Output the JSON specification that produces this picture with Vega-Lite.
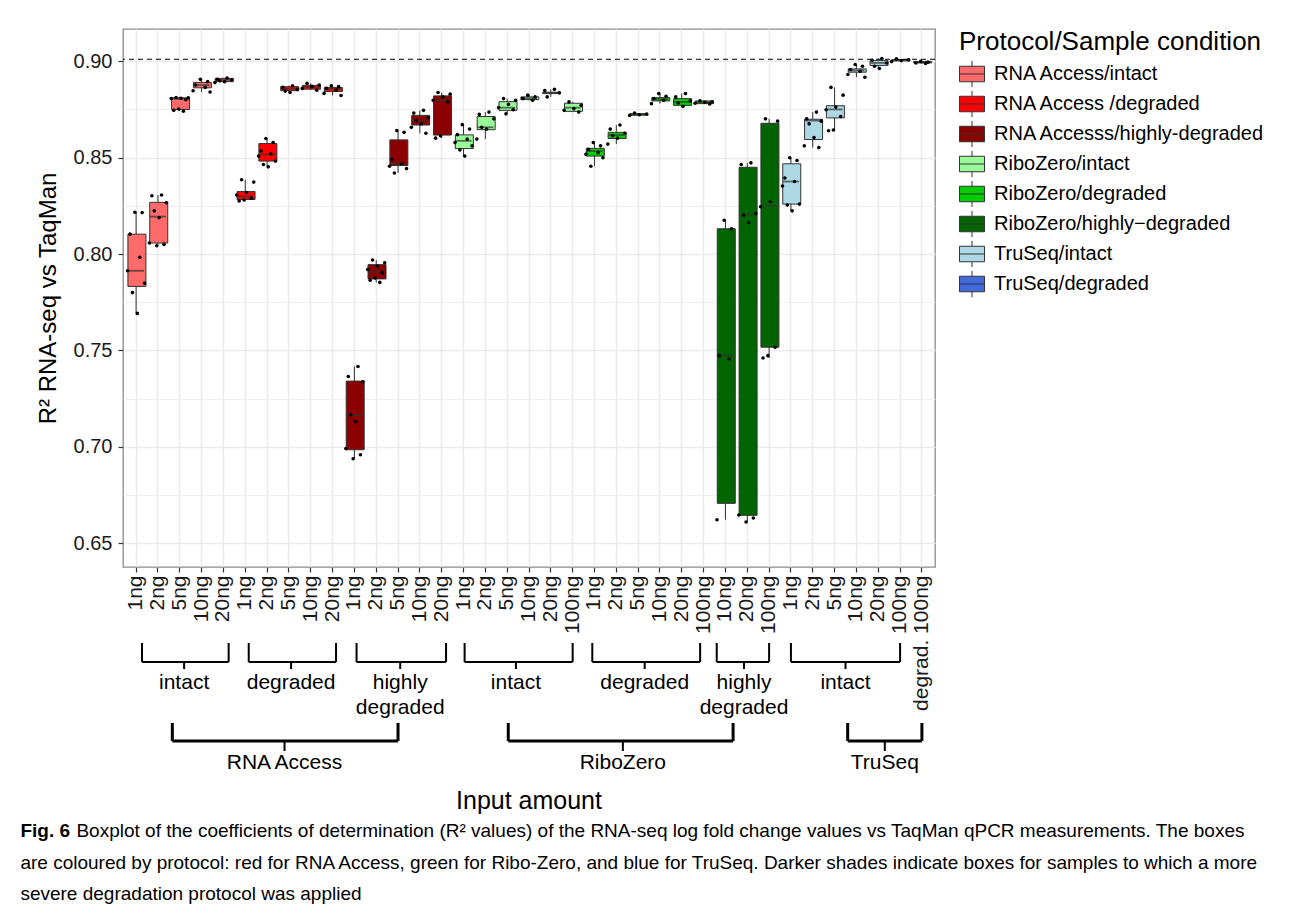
{
"$schema": "https://vega.github.io/schema/vega-lite/v6.json",
"background": "white",
"padding": {"left": 20, "top": 28, "right": 5, "bottom": 5},
"config": {"font": "Liberation Sans", "view": {"stroke": "#8c8c8c", "strokeWidth": 1.3}},
"datasets": {
"boxes": [
{"c":"01 1ng","g":"RNA Access/intact","lo":0.7692,"q1":0.7832,"med":0.7913,"q3":0.8103,"hi":0.8217},
{"c":"02 2ng","g":"RNA Access/intact","lo":0.8043,"q1":0.8057,"med":0.8194,"q3":0.8268,"hi":0.8306},
{"c":"03 5ng","g":"RNA Access/intact","lo":0.8741,"q1":0.8750,"med":0.8805,"q3":0.8810,"hi":0.8812},
{"c":"04 10ng","g":"RNA Access/intact","lo":0.8840,"q1":0.8862,"med":0.8876,"q3":0.8890,"hi":0.8906},
{"c":"05 20ng","g":"RNA Access/intact","lo":0.8889,"q1":0.8894,"med":0.8903,"q3":0.8911,"hi":0.8913},
{"c":"06 1ng","g":"RNA Access /degraded","lo":0.8275,"q1":0.8283,"med":0.8298,"q3":0.8324,"hi":0.8385},
{"c":"07 2ng","g":"RNA Access /degraded","lo":0.8452,"q1":0.8482,"med":0.8517,"q3":0.8573,"hi":0.8599},
{"c":"08 5ng","g":"RNA Access /degraded","lo":0.8838,"q1":0.8847,"med":0.8857,"q3":0.8868,"hi":0.8873},
{"c":"09 10ng","g":"RNA Access /degraded","lo":0.8850,"q1":0.8855,"med":0.8866,"q3":0.8875,"hi":0.8885},
{"c":"10 20ng","g":"RNA Access /degraded","lo":0.8822,"q1":0.8843,"med":0.8855,"q3":0.8864,"hi":0.8873},
{"c":"11 1ng","g":"RNA Accesss/highly-degraded","lo":0.6938,"q1":0.6985,"med":0.7166,"q3":0.7341,"hi":0.7417},
{"c":"12 2ng","g":"RNA Accesss/highly-degraded","lo":0.7853,"q1":0.7871,"med":0.7908,"q3":0.7945,"hi":0.7969},
{"c":"13 5ng","g":"RNA Accesss/highly-degraded","lo":0.8420,"q1":0.8459,"med":0.8468,"q3":0.8592,"hi":0.8640},
{"c":"14 10ng","g":"RNA Accesss/highly-degraded","lo":0.8626,"q1":0.8669,"med":0.8692,"q3":0.8719,"hi":0.8745},
{"c":"15 20ng","g":"RNA Accesss/highly-degraded","lo":0.8601,"q1":0.8617,"med":0.8797,"q3":0.8820,"hi":0.8838},
{"c":"16 1ng","g":"RiboZero/intact","lo":0.8508,"q1":0.8547,"med":0.8587,"q3":0.8618,"hi":0.8671},
{"c":"17 2ng","g":"RiboZero/intact","lo":0.8596,"q1":0.8645,"med":0.8657,"q3":0.8713,"hi":0.8736},
{"c":"18 5ng","g":"RiboZero/intact","lo":0.8727,"q1":0.8745,"med":0.8759,"q3":0.8790,"hi":0.8806},
{"c":"19 10ng","g":"RiboZero/intact","lo":0.8797,"q1":0.8801,"med":0.8808,"q3":0.8815,"hi":0.8824},
{"c":"20 20ng","g":"RiboZero/intact","lo":0.8815,"q1":0.8832,"med":0.8836,"q3":0.8839,"hi":0.8854},
{"c":"21 100ng","g":"RiboZero/intact","lo":0.8736,"q1":0.8740,"med":0.8759,"q3":0.8782,"hi":0.8789},
{"c":"22 1ng","g":"RiboZero/degraded","lo":0.8455,"q1":0.8508,"med":0.8534,"q3":0.8548,"hi":0.8578},
{"c":"23 2ng","g":"RiboZero/degraded","lo":0.8570,"q1":0.8599,"med":0.8617,"q3":0.8631,"hi":0.8669},
{"c":"24 5ng","g":"RiboZero/degraded","lo":0.8719,"q1":0.8720,"med":0.8724,"q3":0.8728,"hi":0.8731},
{"c":"25 10ng","g":"RiboZero/degraded","lo":0.8780,"q1":0.8794,"med":0.8803,"q3":0.8811,"hi":0.8832},
{"c":"26 20ng","g":"RiboZero/degraded","lo":0.8766,"q1":0.8771,"med":0.8789,"q3":0.8806,"hi":0.8832},
{"c":"27 100ng","g":"RiboZero/degraded","lo":0.8778,"q1":0.8780,"med":0.8787,"q3":0.8794,"hi":0.8795},
{"c":"28 10ng","g":"RiboZero/highly−degraded","lo":0.6622,"q1":0.6707,"med":0.7473,"q3":0.8131,"hi":0.8175},
{"c":"29 20ng","g":"RiboZero/highly−degraded","lo":0.6610,"q1":0.6645,"med":0.8205,"q3":0.8450,"hi":0.8473},
{"c":"30 100ng","g":"RiboZero/highly−degraded","lo":0.7461,"q1":0.7517,"med":0.8250,"q3":0.8678,"hi":0.8701},
{"c":"31 1ng","g":"TruSeq/intact","lo":0.8224,"q1":0.8259,"med":0.8376,"q3":0.8468,"hi":0.8499},
{"c":"32 2ng","g":"TruSeq/intact","lo":0.8552,"q1":0.8594,"med":0.8692,"q3":0.8699,"hi":0.8736},
{"c":"33 5ng","g":"TruSeq/intact","lo":0.8639,"q1":0.8706,"med":0.8750,"q3":0.8769,"hi":0.8864},
{"c":"34 10ng","g":"TruSeq/intact","lo":0.8917,"q1":0.8943,"med":0.8952,"q3":0.8960,"hi":0.8983},
{"c":"35 20ng","g":"TruSeq/intact","lo":0.8962,"q1":0.8978,"med":0.8991,"q3":0.9003,"hi":0.9014},
{"c":"36 100ng","g":"TruSeq/intact","lo":0.8998,"q1":0.9002,"med":0.9005,"q3":0.9008,"hi":0.9012},
{"c":"37 degrad. 100ng","g":"TruSeq/degraded","lo":0.8988,"q1":0.8991,"med":0.8995,"q3":0.8998,"hi":0.8999}
],
"pts": [
{"c":"01 1ng","v":0.8217,"r":4},{"c":"01 1ng","v":0.8215,"r":7},{"c":"01 1ng","v":0.8103,"r":2},{"c":"01 1ng","v":0.7983,"r":6},{"c":"01 1ng","v":0.7913,"r":1},{"c":"01 1ng","v":0.7849,"r":8},{"c":"01 1ng","v":0.78,"r":3},{"c":"01 1ng","v":0.7692,"r":5},
{"c":"02 2ng","v":0.8306,"r":6},{"c":"02 2ng","v":0.8302,"r":2},{"c":"02 2ng","v":0.8266,"r":8},{"c":"02 2ng","v":0.8224,"r":3},{"c":"02 2ng","v":0.8189,"r":5},{"c":"02 2ng","v":0.8057,"r":1},{"c":"02 2ng","v":0.805,"r":7},{"c":"02 2ng","v":0.8043,"r":4},
{"c":"03 5ng","v":0.8812,"r":3},{"c":"03 5ng","v":0.881,"r":8},{"c":"03 5ng","v":0.8808,"r":5},{"c":"03 5ng","v":0.8806,"r":1},{"c":"03 5ng","v":0.88,"r":7},{"c":"03 5ng","v":0.8752,"r":4},{"c":"03 5ng","v":0.8745,"r":2},{"c":"03 5ng","v":0.8741,"r":6},
{"c":"04 10ng","v":0.8906,"r":4},{"c":"04 10ng","v":0.8894,"r":7},{"c":"04 10ng","v":0.8876,"r":2},{"c":"04 10ng","v":0.8864,"r":6},{"c":"04 10ng","v":0.8847,"r":1},{"c":"04 10ng","v":0.884,"r":8},
{"c":"05 20ng","v":0.8913,"r":6},{"c":"05 20ng","v":0.8906,"r":2},{"c":"05 20ng","v":0.8903,"r":8},{"c":"05 20ng","v":0.8899,"r":3},{"c":"05 20ng","v":0.8894,"r":5},{"c":"05 20ng","v":0.8889,"r":1},
{"c":"06 1ng","v":0.8385,"r":3},{"c":"06 1ng","v":0.8373,"r":8},{"c":"06 1ng","v":0.8319,"r":5},{"c":"06 1ng","v":0.8306,"r":1},{"c":"06 1ng","v":0.8289,"r":7},{"c":"06 1ng","v":0.828,"r":4},{"c":"06 1ng","v":0.8275,"r":2},
{"c":"07 2ng","v":0.8599,"r":4},{"c":"07 2ng","v":0.8578,"r":7},{"c":"07 2ng","v":0.8534,"r":2},{"c":"07 2ng","v":0.852,"r":6},{"c":"07 2ng","v":0.8508,"r":1},{"c":"07 2ng","v":0.8482,"r":8},{"c":"07 2ng","v":0.8464,"r":3},{"c":"07 2ng","v":0.8452,"r":5},
{"c":"08 5ng","v":0.8873,"r":6},{"c":"08 5ng","v":0.8864,"r":2},{"c":"08 5ng","v":0.8854,"r":8},{"c":"08 5ng","v":0.8845,"r":3},{"c":"08 5ng","v":0.8838,"r":5},
{"c":"09 10ng","v":0.8885,"r":3},{"c":"09 10ng","v":0.8876,"r":8},{"c":"09 10ng","v":0.8868,"r":5},{"c":"09 10ng","v":0.8859,"r":1},{"c":"09 10ng","v":0.885,"r":7},
{"c":"10 20ng","v":0.8873,"r":4},{"c":"10 20ng","v":0.8868,"r":7},{"c":"10 20ng","v":0.8859,"r":2},{"c":"10 20ng","v":0.885,"r":6},{"c":"10 20ng","v":0.8833,"r":1},{"c":"10 20ng","v":0.8822,"r":8},
{"c":"11 1ng","v":0.7417,"r":6},{"c":"11 1ng","v":0.7365,"r":2},{"c":"11 1ng","v":0.7338,"r":8},{"c":"11 1ng","v":0.7166,"r":3},{"c":"11 1ng","v":0.7131,"r":5},{"c":"11 1ng","v":0.6991,"r":1},{"c":"11 1ng","v":0.6959,"r":7},{"c":"11 1ng","v":0.6938,"r":4},
{"c":"12 2ng","v":0.7969,"r":3},{"c":"12 2ng","v":0.7955,"r":8},{"c":"12 2ng","v":0.7938,"r":5},{"c":"12 2ng","v":0.792,"r":1},{"c":"12 2ng","v":0.7903,"r":7},{"c":"12 2ng","v":0.7876,"r":4},{"c":"12 2ng","v":0.7864,"r":2},{"c":"12 2ng","v":0.7853,"r":6},
{"c":"13 5ng","v":0.864,"r":4},{"c":"13 5ng","v":0.8631,"r":7},{"c":"13 5ng","v":0.849,"r":2},{"c":"13 5ng","v":0.8468,"r":6},{"c":"13 5ng","v":0.8455,"r":1},{"c":"13 5ng","v":0.8443,"r":8},{"c":"13 5ng","v":0.842,"r":3},
{"c":"14 10ng","v":0.8745,"r":6},{"c":"14 10ng","v":0.8731,"r":2},{"c":"14 10ng","v":0.8707,"r":8},{"c":"14 10ng","v":0.8692,"r":3},{"c":"14 10ng","v":0.8675,"r":5},{"c":"14 10ng","v":0.8657,"r":1},{"c":"14 10ng","v":0.8626,"r":7},
{"c":"15 20ng","v":0.8838,"r":3},{"c":"15 20ng","v":0.8829,"r":8},{"c":"15 20ng","v":0.8815,"r":5},{"c":"15 20ng","v":0.8797,"r":1},{"c":"15 20ng","v":0.8789,"r":7},{"c":"15 20ng","v":0.8613,"r":4},{"c":"15 20ng","v":0.8601,"r":2},
{"c":"16 1ng","v":0.8671,"r":4},{"c":"16 1ng","v":0.8648,"r":7},{"c":"16 1ng","v":0.8619,"r":2},{"c":"16 1ng","v":0.8596,"r":6},{"c":"16 1ng","v":0.8578,"r":1},{"c":"16 1ng","v":0.8561,"r":8},{"c":"16 1ng","v":0.854,"r":3},{"c":"16 1ng","v":0.8508,"r":5},
{"c":"17 2ng","v":0.8736,"r":6},{"c":"17 2ng","v":0.8724,"r":2},{"c":"17 2ng","v":0.8701,"r":8},{"c":"17 2ng","v":0.8657,"r":3},{"c":"17 2ng","v":0.8648,"r":5},{"c":"17 2ng","v":0.8596,"r":1},
{"c":"18 5ng","v":0.8806,"r":3},{"c":"18 5ng","v":0.8797,"r":8},{"c":"18 5ng","v":0.8776,"r":5},{"c":"18 5ng","v":0.8759,"r":1},{"c":"18 5ng","v":0.8748,"r":7},{"c":"18 5ng","v":0.8727,"r":4},
{"c":"19 10ng","v":0.8824,"r":4},{"c":"19 10ng","v":0.8815,"r":7},{"c":"19 10ng","v":0.8806,"r":2},{"c":"19 10ng","v":0.8797,"r":6},
{"c":"20 20ng","v":0.8854,"r":6},{"c":"20 20ng","v":0.8848,"r":2},{"c":"20 20ng","v":0.8836,"r":8},{"c":"20 20ng","v":0.8815,"r":3},
{"c":"21 100ng","v":0.8789,"r":3},{"c":"21 100ng","v":0.8771,"r":8},{"c":"21 100ng","v":0.8754,"r":5},{"c":"21 100ng","v":0.8745,"r":1},{"c":"21 100ng","v":0.8736,"r":7},
{"c":"22 1ng","v":0.8578,"r":4},{"c":"22 1ng","v":0.8561,"r":7},{"c":"22 1ng","v":0.8543,"r":2},{"c":"22 1ng","v":0.8526,"r":6},{"c":"22 1ng","v":0.8517,"r":1},{"c":"22 1ng","v":0.8499,"r":8},{"c":"22 1ng","v":0.8455,"r":3},
{"c":"23 2ng","v":0.8669,"r":6},{"c":"23 2ng","v":0.8648,"r":2},{"c":"23 2ng","v":0.8626,"r":8},{"c":"23 2ng","v":0.8613,"r":3},{"c":"23 2ng","v":0.8601,"r":5},{"c":"23 2ng","v":0.857,"r":1},
{"c":"24 5ng","v":0.8731,"r":3},{"c":"24 5ng","v":0.8726,"r":8},{"c":"24 5ng","v":0.8722,"r":5},{"c":"24 5ng","v":0.8719,"r":1},
{"c":"25 10ng","v":0.8832,"r":4},{"c":"25 10ng","v":0.8818,"r":7},{"c":"25 10ng","v":0.8806,"r":2},{"c":"25 10ng","v":0.8797,"r":6},{"c":"25 10ng","v":0.878,"r":1},
{"c":"26 20ng","v":0.8832,"r":6},{"c":"26 20ng","v":0.8815,"r":2},{"c":"26 20ng","v":0.8794,"r":8},{"c":"26 20ng","v":0.8783,"r":3},{"c":"26 20ng","v":0.8766,"r":5},
{"c":"27 100ng","v":0.8795,"r":3},{"c":"27 100ng","v":0.879,"r":8},{"c":"27 100ng","v":0.8787,"r":5},{"c":"27 100ng","v":0.8782,"r":1},{"c":"27 100ng","v":0.8778,"r":7},
{"c":"28 10ng","v":0.8175,"r":4},{"c":"28 10ng","v":0.8131,"r":7},{"c":"28 10ng","v":0.7473,"r":2},{"c":"28 10ng","v":0.7456,"r":6},{"c":"28 10ng","v":0.6622,"r":1},
{"c":"29 20ng","v":0.8473,"r":6},{"c":"29 20ng","v":0.8464,"r":2},{"c":"29 20ng","v":0.821,"r":8},{"c":"29 20ng","v":0.8201,"r":3},{"c":"29 20ng","v":0.8162,"r":5},{"c":"29 20ng","v":0.6647,"r":1},{"c":"29 20ng","v":0.6631,"r":7},{"c":"29 20ng","v":0.661,"r":4},
{"c":"30 100ng","v":0.8701,"r":3},{"c":"30 100ng","v":0.8689,"r":8},{"c":"30 100ng","v":0.8271,"r":5},{"c":"30 100ng","v":0.8245,"r":1},{"c":"30 100ng","v":0.7517,"r":7},{"c":"30 100ng","v":0.7473,"r":4},{"c":"30 100ng","v":0.7461,"r":2},
{"c":"31 1ng","v":0.8499,"r":4},{"c":"31 1ng","v":0.8485,"r":7},{"c":"31 1ng","v":0.8394,"r":2},{"c":"31 1ng","v":0.8376,"r":6},{"c":"31 1ng","v":0.8353,"r":1},{"c":"31 1ng","v":0.8259,"r":8},{"c":"31 1ng","v":0.8254,"r":3},{"c":"31 1ng","v":0.8224,"r":5},
{"c":"32 2ng","v":0.8736,"r":6},{"c":"32 2ng","v":0.8701,"r":2},{"c":"32 2ng","v":0.8689,"r":8},{"c":"32 2ng","v":0.8675,"r":3},{"c":"32 2ng","v":0.8604,"r":5},{"c":"32 2ng","v":0.8561,"r":1},{"c":"32 2ng","v":0.8552,"r":7},
{"c":"33 5ng","v":0.8864,"r":3},{"c":"33 5ng","v":0.8824,"r":8},{"c":"33 5ng","v":0.8762,"r":5},{"c":"33 5ng","v":0.8748,"r":1},{"c":"33 5ng","v":0.8713,"r":7},{"c":"33 5ng","v":0.8643,"r":4},{"c":"33 5ng","v":0.8639,"r":2},
{"c":"34 10ng","v":0.8983,"r":4},{"c":"34 10ng","v":0.8974,"r":7},{"c":"34 10ng","v":0.8957,"r":2},{"c":"34 10ng","v":0.8948,"r":6},{"c":"34 10ng","v":0.8931,"r":1},{"c":"34 10ng","v":0.8917,"r":8},
{"c":"35 20ng","v":0.9014,"r":6},{"c":"35 20ng","v":0.9005,"r":2},{"c":"35 20ng","v":0.8991,"r":8},{"c":"35 20ng","v":0.8974,"r":3},{"c":"35 20ng","v":0.8962,"r":5},
{"c":"36 100ng","v":0.9012,"r":3},{"c":"36 100ng","v":0.9007,"r":8},{"c":"36 100ng","v":0.9003,"r":5},{"c":"36 100ng","v":0.8998,"r":1},
{"c":"37 degrad. 100ng","v":0.8999,"r":4},{"c":"37 degrad. 100ng","v":0.8995,"r":7},{"c":"37 degrad. 100ng","v":0.8991,"r":2},{"c":"37 degrad. 100ng","v":0.8988,"r":6}
],
"brackets": [
{"lvl":1,"x1":0.27,"x2":4.24,"xm":2.2,"label":"intact"},
{"lvl":1,"x1":5.16,"x2":9.16,"xm":7.1,"label":"degraded"},
{"lvl":1,"x1":10.1,"x2":14.2,"xm":12.1,"label":"highly\ndegraded"},
{"lvl":1,"x1":15.05,"x2":20.0,"xm":17.4,"label":"intact"},
{"lvl":1,"x1":20.9,"x2":25.84,"xm":23.3,"label":"degraded"},
{"lvl":1,"x1":26.6,"x2":29.0,"xm":27.85,"label":"highly\ndegraded"},
{"lvl":1,"x1":30.0,"x2":35.0,"xm":32.5,"label":"intact"},
{"lvl":2,"x1":1.66,"x2":12.0,"xm":6.8,"label":"RNA Access"},
{"lvl":2,"x1":17.05,"x2":27.35,"xm":22.3,"label":"RiboZero"},
{"lvl":2,"x1":32.6,"x2":36.0,"xm":34.3,"label":"TruSeq"}
]
},
"bounds": "flush",
"spacing": 0,
"resolve": {"scale": {"x": "independent", "y": "independent", "fill": "independent"}, "legend": {"fill": "independent"}},
"vconcat": [
{
"width": 812, "height": 538,
"layer": [
{"data": {"name": "boxes"}, "mark": {"type": "rule", "color": "#333333", "strokeWidth": 1},
 "encoding": {
  "x": {"field": "c", "type": "nominal", "title": null, "scale": {"paddingInner": 0, "paddingOuter": 0.1},
    "axis": {"labelAngle": 270, "labelExpr": "slice(datum.label, 3)", "labelFontSize": 21, "labelColor": "#1a1a1a", "labelPadding": 3, "labelAlign": "right", "labelBaseline": "middle", "labelLimit": 0, "tickSize": 5, "tickColor": "#333333", "tickWidth": 1.2, "domain": false, "grid": true, "gridColor": "#EBEBEB", "gridWidth": 1.5, "bandPosition": 0.5}},
  "y": {"field": "lo", "type": "quantitative", "scale": {"domain": [0.6377, 0.9167], "nice": false, "zero": false},
    "axis": {"title": "R² RNA-seq vs TaqMan", "values": [0.65,0.675,0.7,0.725,0.75,0.775,0.8,0.825,0.85,0.875,0.9],
      "labelExpr": "round(datum.value*1000) % 50 == 0 ? format(datum.value, '.2f') : ''",
      "labelFontSize": 20, "labelColor": "#1a1a1a", "labelPadding": 6, "tickSize": 5, "tickColor": "#333333", "tickWidth": 1.2,
      "tickOpacity": {"condition": {"test": "round(datum.value*1000) % 50 != 0", "value": 0}, "value": 1},
      "gridColor": "#EBEBEB",
      "gridWidth": {"condition": {"test": "round(datum.value*1000) % 50 != 0", "value": 0.8}, "value": 1.5},
      "domain": false, "titleFontSize": 24, "titleFontWeight": "normal", "titleColor": "black", "titlePadding": 13}},
  "y2": {"field": "hi"}
 }},
{"data": {"name": "boxes"}, "mark": {"type": "bar", "width": {"band": 0.75}, "stroke": "#333333", "strokeWidth": 1},
 "encoding": {
  "x": {"field": "c", "type": "nominal"},
  "y": {"field": "q1", "type": "quantitative"},
  "y2": {"field": "q3"},
  "fill": {"field": "g", "type": "nominal",
    "scale": {"domain": ["RNA Access/intact","RNA Access /degraded","RNA Accesss/highly-degraded","RiboZero/intact","RiboZero/degraded","RiboZero/highly−degraded","TruSeq/intact","TruSeq/degraded"],
      "range": ["#FF6A6A","#FF0000","#8B0000","#98FB98","#00CD00","#006400","#ADD8E6","#4169E1"]},
    "legend": {"title": "Protocol/Sample condition", "orient": "right", "offset": 24, "titleFontSize": 26, "titleFontWeight": "normal", "titleColor": "black", "titlePadding": 6, "titleLimit": 600,
      "labelFontSize": 20, "labelColor": "black", "labelLimit": 400, "labelOffset": 9,
      "symbolType": "M-1,-0.62H1V0.62H-1Z M-1,0H1 M0,-0.62V-1.05 M0,0.62V1.05", "symbolSize": 625,
      "symbolStrokeColor": "#333333", "symbolStrokeWidth": 1, "symbolOpacity": 1, "rowPadding": -2}}
 }},
{"data": {"name": "boxes"}, "mark": {"type": "tick", "color": "#333333", "thickness": 1.8, "size": 16},
 "encoding": {"x": {"field": "c", "type": "nominal"}, "y": {"field": "med", "type": "quantitative"}}},
{"data": {"name": "pts"}, "mark": {"type": "circle", "size": 13, "color": "black", "opacity": 1},
 "encoding": {"x": {"field": "c", "type": "nominal"},
  "xOffset": {"field": "r", "type": "nominal", "scale": {"paddingInner": 0, "paddingOuter": 5.5}},
  "y": {"field": "v", "type": "quantitative"}}},
{"data": {"values": [{}]}, "mark": {"type": "rule", "strokeDash": [5, 4], "color": "black", "strokeWidth": 1},
 "encoding": {"y": {"datum": 0.901, "type": "quantitative"}}}
]
},
{
"width": 812, "height": 340, "view": {"stroke": null},
"layer": [
{"data": {"name": "brackets"}, "transform": [{"filter": "datum.lvl == 1"}], "mark": {"type": "rule", "color": "black", "strokeWidth": 2},
 "encoding": {"x": {"field": "x1", "type": "quantitative", "scale": {"domain": [-0.6, 36.6], "nice": false, "zero": false}, "axis": null},
  "y": {"datum": 76, "type": "quantitative", "scale": {"domain": [0, 340], "reverse": true, "nice": false, "zero": false}, "axis": null},
  "y2": {"datum": 95}}},
{"data": {"name": "brackets"}, "transform": [{"filter": "datum.lvl == 1"}], "mark": {"type": "rule", "color": "black", "strokeWidth": 2},
 "encoding": {"x": {"field": "x2", "type": "quantitative"}, "y": {"datum": 76, "type": "quantitative"}, "y2": {"datum": 95}}},
{"data": {"name": "brackets"}, "transform": [{"filter": "datum.lvl == 1"}], "mark": {"type": "rule", "color": "black", "strokeWidth": 2},
 "encoding": {"x": {"field": "x1", "type": "quantitative"}, "x2": {"field": "x2"}, "y": {"datum": 95, "type": "quantitative"}}},
{"data": {"name": "brackets"}, "transform": [{"filter": "datum.lvl == 1"}], "mark": {"type": "rule", "color": "black", "strokeWidth": 2},
 "encoding": {"x": {"field": "xm", "type": "quantitative"}, "y": {"datum": 95, "type": "quantitative"}, "y2": {"datum": 102}}},
{"data": {"name": "brackets"}, "transform": [{"filter": "datum.lvl == 1"}], "mark": {"type": "text", "fontSize": 21, "baseline": "top", "align": "center", "lineBreak": "\n", "lineHeight": 25, "color": "black"},
 "encoding": {"x": {"field": "xm", "type": "quantitative"}, "y": {"datum": 105, "type": "quantitative"}, "text": {"field": "label"}}},
{"data": {"name": "brackets"}, "transform": [{"filter": "datum.lvl == 2"}], "mark": {"type": "rule", "color": "black", "strokeWidth": 3},
 "encoding": {"x": {"field": "x1", "type": "quantitative"}, "y": {"datum": 156, "type": "quantitative"}, "y2": {"datum": 174}}},
{"data": {"name": "brackets"}, "transform": [{"filter": "datum.lvl == 2"}], "mark": {"type": "rule", "color": "black", "strokeWidth": 3},
 "encoding": {"x": {"field": "x2", "type": "quantitative"}, "y": {"datum": 156, "type": "quantitative"}, "y2": {"datum": 174}}},
{"data": {"name": "brackets"}, "transform": [{"filter": "datum.lvl == 2"}], "mark": {"type": "rule", "color": "black", "strokeWidth": 3},
 "encoding": {"x": {"field": "x1", "type": "quantitative"}, "x2": {"field": "x2"}, "y": {"datum": 174, "type": "quantitative"}}},
{"data": {"name": "brackets"}, "transform": [{"filter": "datum.lvl == 2"}], "mark": {"type": "rule", "color": "black", "strokeWidth": 2},
 "encoding": {"x": {"field": "xm", "type": "quantitative"}, "y": {"datum": 174, "type": "quantitative"}, "y2": {"datum": 184}}},
{"data": {"name": "brackets"}, "transform": [{"filter": "datum.lvl == 2"}], "mark": {"type": "text", "fontSize": 21, "baseline": "top", "align": "center", "color": "black"},
 "encoding": {"x": {"field": "xm", "type": "quantitative"}, "y": {"datum": 185, "type": "quantitative"}, "text": {"field": "label"}}},
{"data": {"values": [{"t": "Input amount"}]}, "mark": {"type": "text", "fontSize": 25, "baseline": "middle", "align": "center", "color": "black"},
 "encoding": {"x": {"datum": 18, "type": "quantitative"}, "y": {"datum": 234, "type": "quantitative"}, "text": {"field": "t"}}},
{"data": {"values": [{"t": "Fig. 6"}]}, "mark": {"type": "text", "fontSize": 19, "fontWeight": "bold", "baseline": "middle", "align": "left", "color": "black"},
 "encoding": {"x": {"datum": -5.3, "type": "quantitative"}, "y": {"datum": 264, "type": "quantitative"}, "text": {"field": "t"}}},
{"data": {"values": [{"t": "Boxplot of the coefficients of determination (R² values) of the RNA-seq log fold change values vs TaqMan qPCR measurements. The boxes"}]},
 "mark": {"type": "text", "fontSize": 19, "baseline": "middle", "align": "left", "color": "black", "dx": 56},
 "encoding": {"x": {"datum": -5.3, "type": "quantitative"}, "y": {"datum": 264, "type": "quantitative"}, "text": {"field": "t"}}},
{"data": {"values": [{"t": "are coloured by protocol: red for RNA Access, green for Ribo-Zero, and blue for TruSeq. Darker shades indicate boxes for samples to which a more\nsevere degradation protocol was applied"}]},
 "mark": {"type": "text", "fontSize": 19, "baseline": "middle", "align": "left", "color": "black", "lineBreak": "\n", "lineHeight": 31},
 "encoding": {"x": {"datum": -5.3, "type": "quantitative"}, "y": {"datum": 296, "type": "quantitative"}, "text": {"field": "t"}}}
]
}
]
}
